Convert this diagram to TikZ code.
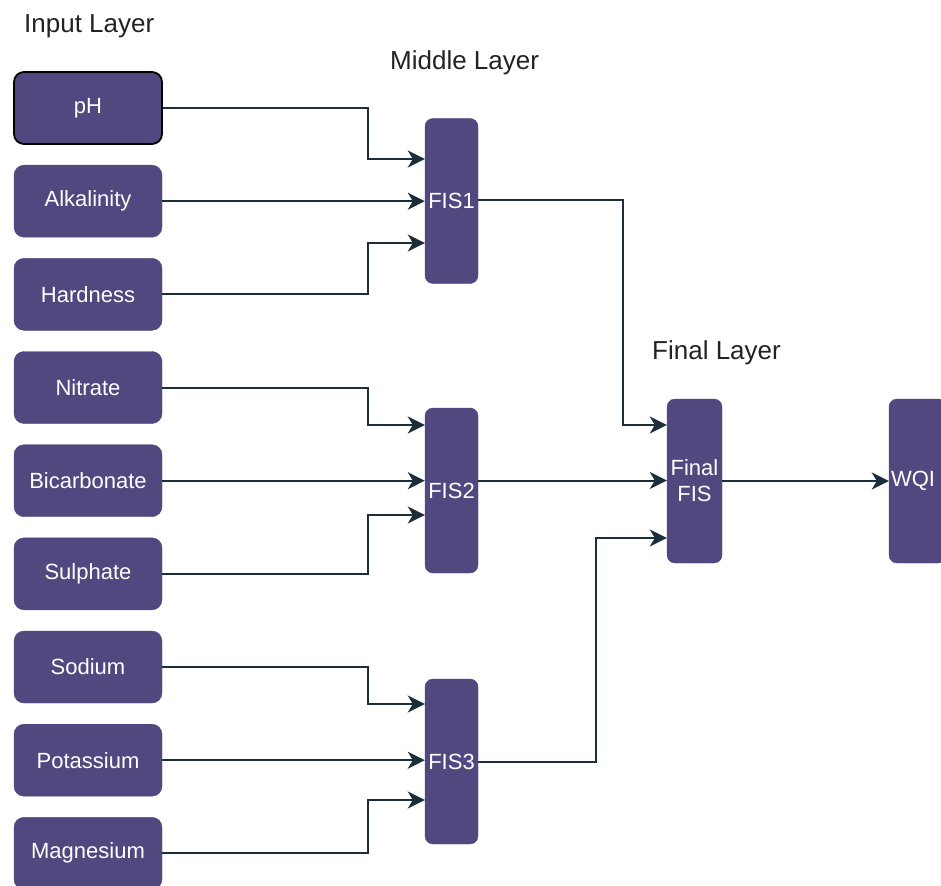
\documentclass[tikz,border=0pt]{standalone}
\usepackage{fontspec}
\setmainfont{Liberation Sans}
\usetikzlibrary{arrows.meta,calc}
\definecolor{boxfill}{HTML}{524880}
\definecolor{wire}{HTML}{1C2E3A}
\definecolor{headtext}{HTML}{222222}
\begin{document}
\begin{tikzpicture}[x=1pt,y=-1pt,
  inbox/.style={draw=boxfill,fill=boxfill,rounded corners=10pt,minimum width=148pt,minimum height=72pt,text=white,font=\fontsize{22}{26}\selectfont,inner sep=0pt},
  fisbox/.style={draw=boxfill,fill=boxfill,rounded corners=8pt,minimum width=53pt,minimum height=165pt,text=white,font=\fontsize{22}{26}\selectfont,inner sep=0pt,align=center},
  wirearrow/.style={draw=wire,line width=2pt,-{Stealth[length=17pt,width=17pt,inset=5pt]}},
  heading/.style={anchor=base west,inner sep=0pt,font=\fontsize{26}{30}\selectfont,text=headtext}]

\useasboundingbox (0,0) rectangle (941,885);
\clip (0,0) rectangle (941,885);

% headings
\node[heading] (hin) at (24,33) {Input Layer};
\node[heading] (hmid) at (390,70) {Middle Layer};
\node[heading] (hfin) at (652,359) {Final Layer};

% input boxes
\node[inbox,draw=black,line width=1.8pt] (ph) at (88,108) {pH};
\node[inbox] (alk) at (88,201.2) {Alkalinity};
\node[inbox] (hard) at (88,294.3) {Hardness};
\node[inbox] (nit) at (88,387.5) {Nitrate};
\node[inbox] (bic) at (88,480.7) {Bicarbonate};
\node[inbox] (sul) at (88,573.8) {Sulphate};
\node[inbox] (sod) at (88,667) {Sodium};
\node[inbox] (pot) at (88,760.2) {Potassium};
\node[inbox] (mag) at (88,853.3) {Magnesium};

% FIS boxes
\node[fisbox] (fis1) at (451.5,201) {FIS1};
\node[fisbox] (fis2) at (451.5,490.5) {FIS2};
\node[fisbox] (fis3) at (451.5,761.5) {FIS3};
\node[fisbox,minimum width=55pt,minimum height=164pt] (fin) at (694.5,481) {Final\\FIS};
\node[fisbox,minimum height=164pt,text width=53pt,align=left,inner xsep=2pt] (wqi) at (917.5,481) {WQI};

% bend columns and arrival points
\coordinate (xb) at (368,0);
\coordinate (xf1) at (623,0);
\coordinate (xf3) at (596,0);
\coordinate (a1) at ($(fis1.west)+(0,-42)$);
\coordinate (a3) at ($(fis1.west)+(0,42)$);
\coordinate (b1) at ($(fis2.west)+(0,-65.5)$);
\coordinate (b3) at ($(fis2.west)+(0,24.5)$);
\coordinate (c1) at ($(fis3.west)+(0,-57.5)$);
\coordinate (c3) at ($(fis3.west)+(0,38.5)$);
\coordinate (d1) at ($(fin.west)+(0,-56)$);
\coordinate (d3) at ($(fin.west)+(0,57)$);

% inputs to FIS1
\draw[wirearrow] (ph.east) -- (ph.east -| xb) |- (a1);
\draw[wirearrow] (alk.east) -- (alk.east -| fis1.west);
\draw[wirearrow] (hard.east) -- (hard.east -| xb) |- (a3);

% inputs to FIS2
\draw[wirearrow] (nit.east) -- (nit.east -| xb) |- (b1);
\draw[wirearrow] (bic.east) -- (bic.east -| fis2.west);
\draw[wirearrow] (sul.east) -- (sul.east -| xb) |- (b3);

% inputs to FIS3
\draw[wirearrow] (sod.east) -- (sod.east -| xb) |- (c1);
\draw[wirearrow] (pot.east) -- (pot.east -| fis3.west);
\draw[wirearrow] (mag.east) -- (mag.east -| xb) |- (c3);

% middle to final
\coordinate (o1) at ($(fis1.east)+(0,-1)$);
\coordinate (o2) at ($(fis2.east)+(0,-10)$);
\coordinate (o3) at ($(fis3.east)+(0,0.5)$);
\draw[wirearrow] (o1) -- (o1 -| xf1) |- (d1);
\draw[wirearrow] (o2) -- (o2 -| fin.west);
\draw[wirearrow] (o3) -- (o3 -| xf3) |- (d3);

% final to WQI
\draw[wirearrow] (fin.east) -- (fin.east -| wqi.west);
\end{tikzpicture}
\end{document}
